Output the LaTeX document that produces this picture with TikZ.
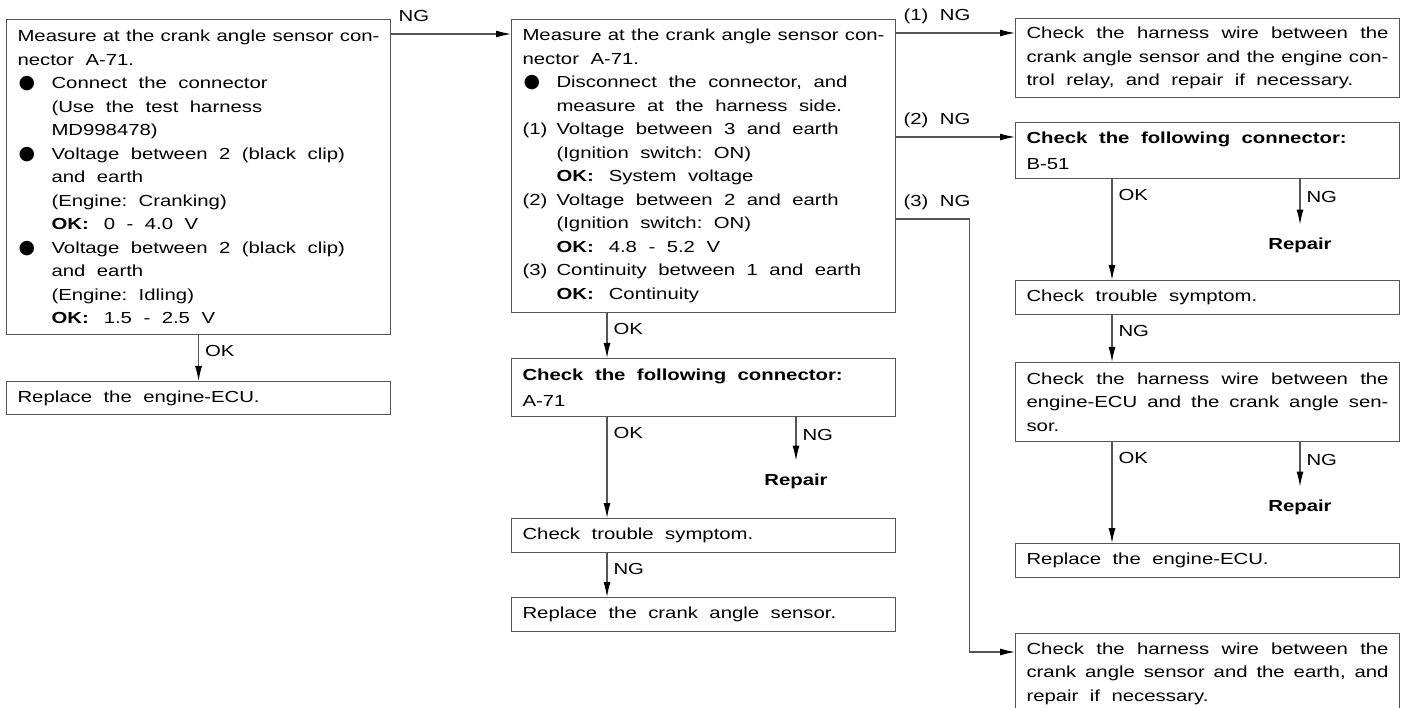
\documentclass[tikz,border=0pt]{standalone}
\usepackage{fontspec}
\setmainfont{Liberation Sans}[FakeStretch=1.27]
\newfontfamily\bulfont{DejaVu Sans}
\usetikzlibrary{arrows.meta, calc}
\definecolor{linecol}{HTML}{555555}
\newcommand{\wordgap}{\frenchspacing\spaceskip=11.5pt plus 4pt minus 7pt\relax
    \xspaceskip=\spaceskip}
\newcommand{\bodyfont}{\fontsize{16pt}{23.5pt}\selectfont\wordgap}
\newcommand{\jl}[1]{\makebox[\hsize][s]{#1}}
\newcommand{\ind}{\hspace*{34pt}}
\newcommand{\itm}[1]{\makebox[34pt][l]{#1}}
\newcommand{\bul}{\makebox[34pt][l]{\hspace{1pt}{\bulfont\fontsize{19pt}{19pt}\selectfont ●}}}
\newcommand{\oklab}{\textbf{OK:}\hspace{15pt}}

\begin{document}
\begin{tikzpicture}[x=1pt, y=-1pt,
    every node/.style={font=\bodyfont},
    box/.style={draw=linecol, line width=1.1pt, anchor=north west, align=left,
        text width=362pt, minimum width=384pt, inner xsep=11pt, inner ysep=0pt,
        execute at begin node=\wordgap},
    arr/.style={draw=linecol, line width=1.1pt, -{Latex[length=15pt, width=7pt, color=black]}},
    lbl/.style={anchor=north west, inner xsep=6pt, inner ysep=0pt, yshift=-9.5pt},
    hlbl/.style={anchor=base west, inner sep=0pt, xshift=7pt, yshift=12pt},
    rep/.style={font=\bodyfont\bfseries, inner sep=0pt, outer ysep=13pt},
]
\useasboundingbox (0,0) rectangle (1408,708);

% first measurement
\node[box, minimum height=315pt] (a1) at (6,19) {%
    \jl{Measure at the crank angle sensor con-}\\
    nector A-71.\\
    \bul Connect the connector\\
    \ind (Use the test harness\\
    \ind MD998478)\\
    \bul Voltage between 2 (black clip)\\
    \ind and earth\\
    \ind (Engine: Cranking)\\
    \ind\oklab 0 - 4.0 V\\
    \bul Voltage between 2 (black clip)\\
    \ind and earth\\
    \ind (Engine: Idling)\\
    \ind\oklab 1.5 - 2.5 V};
\node[box, minimum height=33pt] (a2) at (6,381) {Replace the engine-ECU.};

% harness side measurement
\node[box, minimum height=293pt] (b1) at (511,19) {%
    \jl{Measure at the crank angle sensor con-}\\
    nector A-71.\\
    \bul Disconnect the connector, and\\
    \ind measure at the harness side.\\
    \itm{(1)}Voltage between 3 and earth\\
    \ind (Ignition switch: ON)\\
    \ind\oklab System voltage\\
    \itm{(2)}Voltage between 2 and earth\\
    \ind (Ignition switch: ON)\\
    \ind\oklab 4.8 - 5.2 V\\
    \itm{(3)}Continuity between 1 and earth\\
    \ind\oklab Continuity};
\node[box, minimum height=58pt] (b2) at (511,358) {\textbf{Check the following connector:}\\[2pt] A-71};
\node[rep] (rb) at (796,481) {Repair};
\node[box, minimum height=34pt] (b3) at (511,518) {Check trouble symptom.};
\node[box, minimum height=34pt] (b4) at (511,597) {Replace the crank angle sensor.};

% NG branches
\node[box, minimum height=79pt] (c1) at (1015,18) {%
    \jl{Check the harness wire between the}\\
    \jl{crank angle sensor and the engine con-}\\
    trol relay, and repair if necessary.};
\node[box, minimum height=56pt] (c2) at (1015,122) {\textbf{Check the following connector:}\\[2pt] B-51};
\node[rep] (rc1) at (1300,245) {Repair};
\node[box, minimum height=34pt] (c3) at (1015,280) {Check trouble symptom.};
\node[box, minimum height=79pt] (c4) at (1015,362) {%
    \jl{Check the harness wire between the}\\
    \jl{engine-ECU and the crank angle sen-}\\
    sor.};
\node[rep] (rc2) at (1300,507) {Repair};
\node[box, minimum height=34pt] (c5) at (1015,543) {Replace the engine-ECU.};
\node[box, minimum height=80pt] (c6) at (1015,633) {%
    \jl{Check the harness wire between the}\\
    \jl{crank angle sensor and the earth, and}\\
    repair if necessary.};

% where the connectors leave and enter
\coordinate (ng0) at ([yshift=-15pt]a1.north east);
\coordinate (ng1) at ([yshift=-14pt]b1.north east);
\coordinate (ng2) at ([yshift=-15pt]c2.north west);
\coordinate (ng3) at ([yshift=-200pt]b1.north east);
\coordinate (in3) at ([yshift=-19pt]c6.north west);
\coordinate (bx) at ([xshift=96pt]b1.south west);
\coordinate (cx) at ([xshift=97pt]c2.south west);

\draw[arr] (a1.south) node[lbl]{OK} -- (a2.north);
\draw[arr] (ng0) node[hlbl]{NG} -- (ng0 -| b1.west);

\draw[arr] (ng1) node[hlbl]{(1) NG} -- (ng1 -| c1.west);
\draw[arr] (ng2 -| b1.east) node[hlbl]{(2) NG} -- (ng2);
\draw[arr] (ng3) node[hlbl]{(3) NG} -- ++(73,0) |- (in3);

\draw[arr] (bx) node[lbl]{OK} -- (bx |- b2.north);
\draw[arr] (bx |- b2.south) node[lbl]{OK} -- (bx |- b3.north);
\draw[arr] (rb.north |- b2.south) node[lbl, yshift=-2.5pt]{NG} -- (rb.north);
\draw[arr] (bx |- b3.south) node[lbl]{NG} -- (bx |- b4.north);

\draw[arr] (cx) node[lbl]{OK} -- (cx |- c3.north);
\draw[arr] (rc1.north |- c2.south) node[lbl, yshift=-2.5pt]{NG} -- (rc1.north);
\draw[arr] (cx |- c3.south) node[lbl]{NG} -- (cx |- c4.north);
\draw[arr] (cx |- c4.south) node[lbl]{OK} -- (cx |- c5.north);
\draw[arr] (rc2.north |- c4.south) node[lbl, yshift=-2.5pt]{NG} -- (rc2.north);
\end{tikzpicture}
\end{document}
